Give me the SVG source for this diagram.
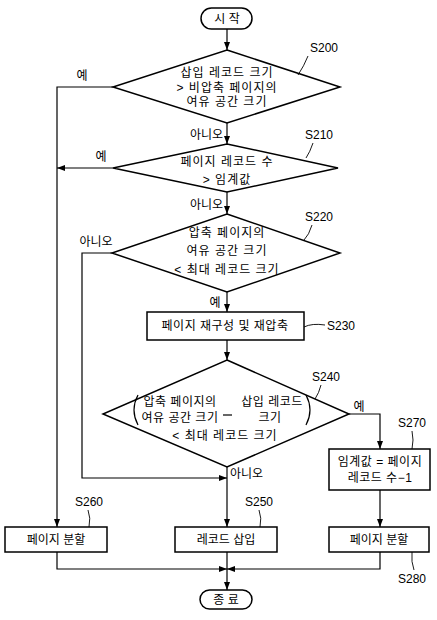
<svg xmlns="http://www.w3.org/2000/svg" width="437" height="620" viewBox="0 0 437 620">
<defs>
<marker id="ah" viewBox="0 0 8 6" refX="8" refY="3" markerWidth="8" markerHeight="6" markerUnits="userSpaceOnUse" orient="auto">
<path d="M0,0 L8,3 L0,6 Z" fill="#000"/>
</marker>
</defs>
<style>
.s{fill:#fff;stroke:#000;stroke-width:1.5}
.c{fill:none;stroke:#000;stroke-width:1.2}
.l{fill:none;stroke:#000;stroke-width:0.9}
text{font-family:"Liberation Sans","Noto Sans CJK KR",sans-serif;font-size:12px;fill:#000}
.m{text-anchor:middle}
.e{text-anchor:end}
.d{letter-spacing:1px}
.b{letter-spacing:0.5px}
</style>
<rect width="437" height="620" fill="#fff"/>
<g id="connectors">
<path class="c" d="M227,29 V50" marker-end="url(#ah)"/>
<path class="c" d="M113,87 H57 V527" marker-end="url(#ah)"/>
<path class="c" d="M227,123 V144" marker-end="url(#ah)"/>
<path class="c" d="M113,168 H57" marker-end="url(#ah)"/>
<path class="c" d="M227,192 V214" marker-end="url(#ah)"/>
<path class="c" d="M112,253 H82 V478 H227" marker-end="url(#ah)"/>
<path class="c" d="M227,292 V312" marker-end="url(#ah)"/>
<path class="c" d="M227,340 V360" marker-end="url(#ah)"/>
<path class="c" d="M349,414 H380 V449" marker-end="url(#ah)"/>
<path class="c" d="M227,467 V527" marker-end="url(#ah)"/>
<path class="c" d="M380,490 V527" marker-end="url(#ah)"/>
<path class="c" d="M57,552 V569 H227" marker-end="url(#ah)"/>
<path class="c" d="M380,552 V569 H227" marker-end="url(#ah)"/>
<path class="c" d="M227,552 V590" marker-end="url(#ah)"/>
<text x="82" y="80" class="m">예</text>
<text x="101" y="161" class="m">예</text>
<text x="223" y="139" class="e">아니오</text>
<text x="223" y="209" class="e">아니오</text>
<text x="96" y="246" class="m">아니오</text>
<text x="215" y="307" class="m">예</text>
<text x="359" y="411" class="m">예</text>
<text x="230" y="478">아니오</text>
</g>
<g id="start">
<rect class="s" x="201" y="8" width="51" height="21" rx="10.5"/>
<text x="227" y="23" class="m">시 작</text>
</g>
<g id="S200">
<polygon class="s" points="227,50 340,87 227,123 113,87"/>
<text x="227" y="77" class="m d">삽입 레코드 크기</text>
<text x="227" y="92" class="m d">&gt; 비압축 페이지의</text>
<text x="227" y="106" class="m d">여유 공간 크기</text>
<text x="310" y="52">S200</text>
<path class="l" d="M308,56 Q304,66 298,75"/>
</g>
<g id="S210">
<polygon class="s" points="227,144 338,168 227,192 113,168"/>
<text x="227" y="166" class="m d">페이지 레코드 수</text>
<text x="227" y="184" class="m d">&gt; 임계값</text>
<text x="305" y="139">S210</text>
<path class="l" d="M313,143 Q310,152 306,158"/>
</g>
<g id="S220">
<polygon class="s" points="227,214 340,253 227,292 112,253"/>
<text x="227" y="237" class="m d">압축 페이지의</text>
<text x="227" y="255" class="m d">여유 공간 크기</text>
<text x="227" y="274" class="m d">&lt; 최대 레코드 크기</text>
<text x="305" y="221">S220</text>
<path class="l" d="M312,225 Q309,235 304,240"/>
</g>
<g id="S230">
<rect class="s" x="147" y="312" width="157" height="28"/>
<text x="225" y="330" class="m b">페이지 재구성 및 재압축</text>
<text x="327" y="330">S230</text>
<path class="l" d="M304,327 Q312,323 325,325"/>
</g>
<g id="S240">
<polygon class="s" points="227,360 349,414 227,467 103,414"/>
<text x="180" y="406" class="m b">압축 페이지의</text>
<text x="180" y="422" class="m b">여유 공간 크기</text>
<text x="272" y="406" class="m b">삽입 레코드</text>
<text x="270" y="422" class="m b">크기</text>
<path class="c" d="M223,415 H232"/>
<path class="c" d="M138,395 Q130,410 138,425"/>
<path class="c" d="M306,395 Q314,410 306,425"/>
<text x="225" y="440" class="m d">&lt; 최대 레코드 크기</text>
<text x="312" y="381">S240</text>
<path class="l" d="M321,385 Q319,393 315,399"/>
</g>
<g id="S270">
<rect class="s" x="329" y="449" width="101" height="41"/>
<text x="380" y="466" class="m b">임계값 = 페이지</text>
<text x="380" y="482" class="m b">레코드 수−1</text>
<text x="398" y="427">S270</text>
<path class="l" d="M412,431 Q414,440 412,449"/>
</g>
<g id="S260">
<rect class="s" x="5" y="527" width="102" height="25"/>
<text x="56" y="544" class="m">페이지 분할</text>
<text x="75" y="506">S260</text>
<path class="l" d="M88,510 Q91,518 89,527"/>
</g>
<g id="S250">
<rect class="s" x="175" y="527" width="102" height="25"/>
<text x="226" y="544" class="m">레코드 삽입</text>
<text x="245" y="506">S250</text>
<path class="l" d="M259,510 Q262,518 260,527"/>
</g>
<g id="S280">
<rect class="s" x="329" y="527" width="100" height="25"/>
<text x="379" y="544" class="m">페이지 분할</text>
<text x="398" y="583">S280</text>
<path class="l" d="M412,552 Q411,562 414,570"/>
</g>
<g id="end">
<rect class="s" x="200" y="590" width="52" height="19" rx="9.5"/>
<text x="226" y="604" class="m">종 료</text>
</g>
</svg>
